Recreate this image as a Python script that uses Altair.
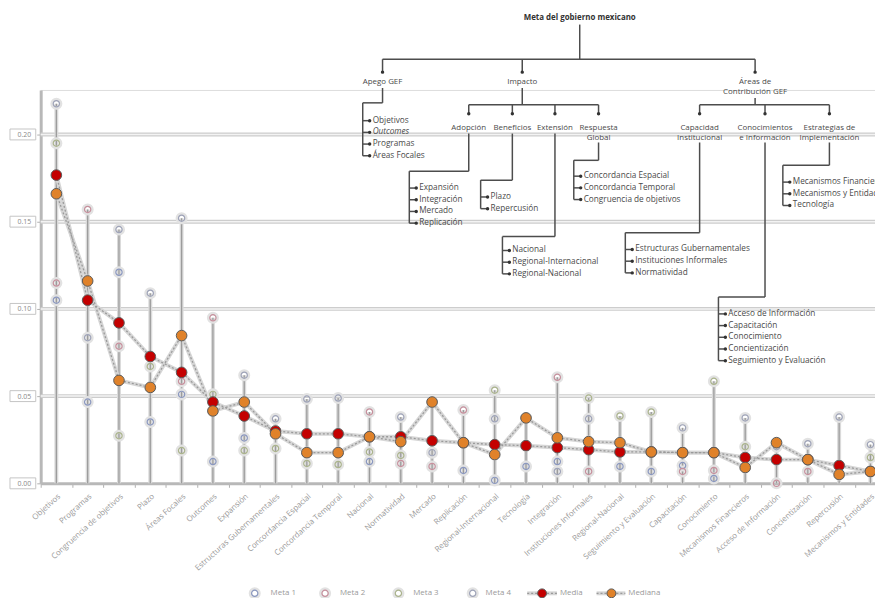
import altair as alt
import pandas as pd

# ---------------- data ----------------
categories = [
    "Objetivos", "Programas", "Congruencia de objetivos", "Plazo", "Áreas Focales",
    "Outcomes", "Expansión", "Estructuras Gubernamentales", "Concordancia Espacial",
    "Concordancia Temporal", "Nacional", "Normatividad", "Mercado", "Replicación",
    "Regional-Internacional", "Tecnología", "Integración", "Instituciones Informales",
    "Regional-Nacional", "Seguimiento y Evaluación", "Capacitación", "Conocimiento",
    "Mecanismos Financieros", "Acceso de Información", "Concientización",
    "Repercusión", "Mecanismos y Entidades",
]
meta1 = [0.105, 0.0466, 0.121, 0.0352, 0.051, 0.0125, 0.026, 0.030, 0.0284, 0.0284,
         0.0125, 0.0267, 0.0466, 0.0074, 0.0017, 0.0097, 0.0125, 0.0239, 0.0097, 0.0068,
         0.0102, 0.0028, 0.0148, 0.0136, 0.0136, 0.0051, 0.0068]
meta2 = [0.1148, 0.157, 0.0786, 0.055, 0.0585, 0.0949, 0.0466, 0.0284, 0.0176, 0.0176,
         0.0409, 0.0114, 0.0097, 0.042, 0.0165, 0.0375, 0.0608, 0.0068, 0.0233, 0.018,
         0.0068, 0.0074, 0.0091, 0.0, 0.0068, 0.0102, 0.0068]
meta3 = [0.195, 0.105, 0.0273, 0.067, 0.0188, 0.051, 0.0188, 0.020, 0.0114, 0.0108,
         0.018, 0.016, 0.0244, 0.0233, 0.0534, 0.0216, 0.0261, 0.0489, 0.0386, 0.0409,
         0.0176, 0.0585, 0.021, 0.0233, 0.0136, 0.0051, 0.0148]
meta4 = [0.2176, 0.0835, 0.1455, 0.109, 0.152, 0.0415, 0.062, 0.037, 0.0483, 0.0489,
         0.0267, 0.038, 0.0176, 0.0233, 0.037, 0.0216, 0.0068, 0.037, 0.018, 0.018,
         0.0318, 0.0176, 0.0375, 0.021, 0.0227, 0.038, 0.0222]
media = [0.1767, 0.105, 0.092, 0.0727, 0.0636, 0.0466, 0.0386, 0.030, 0.0284, 0.0284,
         0.0267, 0.0267, 0.0244, 0.0233, 0.0222, 0.0216, 0.0205, 0.0193, 0.018, 0.018,
         0.0176, 0.0176, 0.0148, 0.0136, 0.0136, 0.0102, 0.0068]
mediana = [0.166, 0.116, 0.059, 0.055, 0.0847, 0.0415, 0.0466, 0.0284, 0.0176, 0.0176,
           0.0267, 0.0239, 0.0466, 0.0233, 0.0165, 0.0375, 0.0261, 0.0239, 0.0233, 0.018,
           0.0176, 0.0176, 0.0091, 0.0233, 0.0136, 0.0051, 0.0068]
y_ticks = [0.0, 0.05, 0.10, 0.15, 0.20]
meta_names = ["Meta 1", "Meta 2", "Meta 3", "Meta 4"]
meta_colors = ["#8a97bf", "#c68f9c", "#aab38c", "#9ea3b8"]

# Tree of the evaluation framework (labels)
root_label = "Meta del gobierno mexicano"
level1 = [["Apego GEF"], ["Impacto"], ["Áreas de", "Contribución GEF"]]
level2_impacto = [["Adopción"], ["Beneficios"], ["Extensión"], ["Respuesta", "Global"]]
level2_areas = [["Capacidad", "Institucional"], ["Conocimientos", "e Información"],
                ["Estrategias de", "Implementación"]]
leaves = {
    "Apego GEF": ["Objetivos", "Outcomes", "Programas", "Áreas Focales"],
    "Adopción": ["Expansión", "Integración", "Mercado", "Replicación"],
    "Beneficios": ["Plazo", "Repercusión"],
    "Extensión": ["Nacional", "Regional-Internacional", "Regional-Nacional"],
    "Respuesta": ["Concordancia Espacial", "Concordancia Temporal", "Congruencia de objetivos"],
    "Capacidad": ["Estructuras Gubernamentales", "Instituciones Informales", "Normatividad"],
    "Conocimientos": ["Acceso de Información", "Capacitación", "Conocimiento",
                      "Concientización", "Seguimiento y Evaluación"],
    "Estrategias de": ["Mecanismos Financieros", "Mecanismos y Entidades", "Tecnología"],
}
legend_labels = ["Meta 1", "Meta 2", "Meta 3", "Meta 4", "Media", "Mediana"]

# ---------------- layout ----------------
FONT = "Open Sans"
OX, OY = 41, 88          # page position of the plot origin
BAND = 31.6
N = len(categories)
W, H = 842, 397
YMAX = 0.2255
LINE = "#4d4d4d"
TXT = "#4a4a4a"

df = pd.DataFrame({"cat": categories, "m1": meta1, "m2": meta2, "m3": meta3,
                   "m4": meta4, "media": media, "mediana": mediana})
df["top"] = df[["m1", "m2", "m3", "m4", "media", "mediana"]].max(axis=1)
df["zero"] = 0.0

long = pd.concat([
    pd.DataFrame({"cat": categories, "serie": n, "v": vals})
    for n, vals in zip(meta_names, [meta1, meta2, meta3, meta4])
])

xaxis = alt.Axis(title=None, labelAngle=-42, labelFontSize=8, labelColor="#9a9a9a",
                 labelFont=FONT, tickBand="extent", tickSize=4, tickColor="#b0b0b0",
                 domainColor="#b8b8b8", domainWidth=3, labelPadding=5, grid=False,
                 labelOverlap=False, labelLimit=200)
xscale = alt.Scale(type="band", domain=categories, range=[0, BAND * N],
                   paddingInner=0, paddingOuter=0)
yaxis = alt.Axis(title=None, values=y_ticks, format=".2f", grid=False, tickSize=4,
                 labelPadding=6, labelFontSize=7, labelColor="#8a8a8a", labelFont=FONT,
                 domainColor="#b8b8b8", domainWidth=3, tickColor="#b0b0b0")
yscale = alt.Scale(domain=[0, YMAX], nice=False, zero=True)


def X():
    return alt.X("cat:N", sort=categories, scale=xscale, axis=xaxis)


def Y(field):
    return alt.Y(f"{field}:Q", scale=yscale, axis=yaxis)


ticks_df = pd.DataFrame({"v": y_ticks})
grid_df = pd.DataFrame({"v": y_ticks[1:]})

grid_outer = alt.Chart(grid_df).mark_rule(color="#cdcdcd", strokeWidth=4).encode(y=Y("v"))
grid_inner = alt.Chart(grid_df).mark_rule(color="#f3f3f3", strokeWidth=1.5).encode(y=Y("v"))
label_box = alt.Chart(ticks_df).mark_point(
    shape="M-1.3,-0.55L1.3,-0.55L1.3,0.55L-1.3,0.55Z", size=400, filled=False,
    stroke="#c4c4c4", strokeWidth=1, opacity=1
).encode(x=alt.value(-18), y=Y("v"))

col_outer = alt.Chart(df).mark_rule(color="#dadada", strokeWidth=4).encode(
    x=X(), y=Y("zero"), y2="top:Q")
col_inner = alt.Chart(df).mark_rule(color="#9c9c9c", strokeWidth=1.3).encode(
    x=X(), y=Y("zero"), y2="top:Q")

halo = alt.Chart(long).mark_point(filled=False, size=75, strokeWidth=3.5,
                                  color="#e2e2e2", opacity=1).encode(x=X(), y=Y("v"))
metas = alt.Chart(long).mark_point(filled=False, size=40, strokeWidth=1.2, opacity=1).encode(
    x=X(), y=Y("v"),
    color=alt.Color("serie:N", scale=alt.Scale(domain=meta_names, range=meta_colors),
                    legend=None))

line_bg_media = alt.Chart(df).mark_line(color="#d6d6d6", strokeWidth=4).encode(x=X(), y=Y("media"))
line_bg_med = alt.Chart(df).mark_line(color="#d6d6d6", strokeWidth=4).encode(x=X(), y=Y("mediana"))
line_media = alt.Chart(df).mark_line(color="#9a9a9a", strokeWidth=1.3,
                                     strokeDash=[2, 2]).encode(x=X(), y=Y("media"))
line_med = alt.Chart(df).mark_line(color="#9a9a9a", strokeWidth=1.3,
                                   strokeDash=[2, 2]).encode(x=X(), y=Y("mediana"))
pt_media = alt.Chart(df).mark_circle(size=115, color="#c40000", stroke="#5a5a5a",
                                     strokeWidth=1, opacity=1).encode(x=X(), y=Y("media"))
pt_med = alt.Chart(df).mark_circle(size=115, color="#e0822a", stroke="#5a5a5a",
                                   strokeWidth=1, opacity=1).encode(x=X(), y=Y("mediana"))

main = alt.layer(grid_outer, grid_inner, label_box, col_outer, col_inner,
                 line_bg_media, line_bg_med, line_media, line_med,
                 halo, metas, pt_media, pt_med)

# ---------------- tree annotation (page coordinates converted to plot pixels) ----------------
segs, dots, texts = [], [], []


def seg(x1, y1, x2, y2):
    segs.append({"x": x1 - OX, "y": y1 - OY, "x2": x2 - OX, "y2": y2 - OY})


def dot(x, y):
    dots.append({"x": x - OX, "y": y - OY})


def txt(x, y, t, kind):
    texts.append({"x": x - OX, "y": y - OY, "t": t, "kind": kind})


# root
txt(585, 15, root_label, "root")
seg(585, 22, 585, 57)
l1x = [386, 527, 762]
seg(l1x[0], 57, l1x[-1], 57)
for cx, lab in zip(l1x, level1):
    seg(cx, 57, cx, 70)
    dot(cx, 70)
    for i, line in enumerate(lab):
        txt(cx, 80 + 10 * i, line, "node")

# second level
l2i = [473, 517, 560, 604]
l2a = [706, 772, 837]
seg(527, 86, 527, 103)
seg(l2i[0], 103, l2i[-1], 103)
seg(762, 96, 762, 103)
seg(l2a[0], 103, l2a[-1], 103)
for cx, lab in list(zip(l2i, level2_impacto)) + list(zip(l2a, level2_areas)):
    seg(cx, 103, cx, 112)
    dot(cx, 112)
    for i, line in enumerate(lab):
        txt(cx, 126 + 10 * i, line, "node")

# leaf groups: parent x, start y, elbow y, bracket x, first item y
groups = [
    ("Apego GEF", 386, 86, 101, 366, 119),
    ("Adopción", 473, 132, 170, 413, 187),
    ("Beneficios", 517, 132, 179, 485, 196),
    ("Extensión", 560, 132, 236, 507, 250),
    ("Respuesta", 604, 141, 159, 579, 175),
    ("Capacidad", 706, 141, 232, 631, 249),
    ("Conocimientos", 772, 141, 297, 725, 314),
    ("Estrategias de", 837, 141, 164, 790, 181),
]
STEP = 11.8
for key, px, y0, ye, bx, fy in groups:
    items = leaves[key]
    last = fy + STEP * (len(items) - 1)
    seg(px, y0, px, ye)
    seg(px, ye, bx, ye)
    seg(bx, ye, bx, last)
    for i, it in enumerate(items):
        iy = fy + STEP * i
        seg(bx, iy, bx + 7, iy)
        dot(bx + 7, iy)
        txt(bx + 10, iy, it, "italic" if it == "Outcomes" else "item")

# legend
LY = 596
leg_sym = pd.DataFrame({"x": [257 - OX, 328 - OX, 402 - OX, 477 - OX], "y": [LY - OY] * 4,
                        "serie": meta_names})
leg_txt_x = [273, 343, 417, 490, 565, 634]
for lx, lab in zip(leg_txt_x, legend_labels):
    texts.append({"x": lx - OX, "y": LY - OY, "t": lab, "kind": "legend"})
leg_lines = pd.DataFrame({"x": [532 - OX, 602 - OX], "x2": [562 - OX, 631 - OX],
                          "y": [LY - OY] * 2})
leg_dots = pd.DataFrame({"x": [547 - OX, 617 - OX], "y": [LY - OY] * 2,
                         "s": ["Media", "Mediana"]})

segs_df = pd.DataFrame(segs)
dots_df = pd.DataFrame(dots)
texts_df = pd.DataFrame(texts)

PX = alt.X("x:Q", scale=None, axis=None)
PY = alt.Y("y:Q", scale=None, axis=None)

tree_lines = alt.Chart(segs_df).mark_rule(color=LINE, strokeWidth=1.5).encode(
    x=PX, y=PY, x2="x2:Q", y2="y2:Q")
tree_dots = alt.Chart(dots_df).mark_circle(size=12, color="#333", opacity=1).encode(x=PX, y=PY)

t_root = alt.Chart(texts_df).transform_filter("datum.kind == 'root'").mark_text(
    font=FONT, fontSize=8, fontWeight="bold", color="#333", align="center",
    baseline="middle").encode(x=PX, y=PY, text="t:N")
t_node = alt.Chart(texts_df).transform_filter("datum.kind == 'node'").mark_text(
    font=FONT, fontSize=8, color=TXT, align="center", baseline="middle").encode(
    x=PX, y=PY, text="t:N")
t_item = alt.Chart(texts_df).transform_filter("datum.kind == 'item'").mark_text(
    font=FONT, fontSize=8.3, color=TXT, align="left", baseline="middle").encode(
    x=PX, y=PY, text="t:N")
t_ital = alt.Chart(texts_df).transform_filter("datum.kind == 'italic'").mark_text(
    font=FONT, fontSize=8.3, fontStyle="italic", color=TXT, align="left",
    baseline="middle").encode(x=PX, y=PY, text="t:N")
t_leg = alt.Chart(texts_df).transform_filter("datum.kind == 'legend'").mark_text(
    font=FONT, fontSize=8, color="#9a9a9a", align="left", baseline="middle").encode(
    x=PX, y=PY, text="t:N")

leg_halo = alt.Chart(leg_sym).mark_point(filled=False, size=75, strokeWidth=3.5,
                                         color="#e2e2e2", opacity=1).encode(x=PX, y=PY)
leg_meta = alt.Chart(leg_sym).mark_point(filled=False, size=40, strokeWidth=1.2, opacity=1).encode(
    x=PX, y=PY,
    color=alt.Color("serie:N", scale=alt.Scale(domain=meta_names, range=meta_colors),
                    legend=None))
leg_line_bg = alt.Chart(leg_lines).mark_rule(color="#d6d6d6", strokeWidth=4).encode(
    x=PX, x2="x2:Q", y=PY)
leg_line = alt.Chart(leg_lines).mark_rule(color="#9a9a9a", strokeWidth=1.3,
                                          strokeDash=[2, 2]).encode(x=PX, x2="x2:Q", y=PY)
leg_dot = alt.Chart(leg_dots).mark_circle(size=80, stroke="#5a5a5a", strokeWidth=1,
                                          opacity=1).encode(
    x=PX, y=PY,
    color=alt.Color("s:N", scale=alt.Scale(domain=["Media", "Mediana"],
                                           range=["#c40000", "#e0822a"]), legend=None))

annot = alt.layer(tree_lines, tree_dots, t_root, t_node, t_item, t_ital,
                  leg_line_bg, leg_line, leg_dot, leg_halo, leg_meta, t_leg
                  ).resolve_scale(color="independent")

chart = alt.layer(main, annot).resolve_scale(
    x="independent", y="independent", color="independent"
).properties(
    width=W, height=H,
    autosize=alt.AutoSizeParams(type="none"),
    padding={"left": 33, "top": 80, "right": 0, "bottom": 113},
).configure_view(stroke=None).configure(background="white")

chart.save("out.html", embed_options={"renderer": "svg", "actions": False})
